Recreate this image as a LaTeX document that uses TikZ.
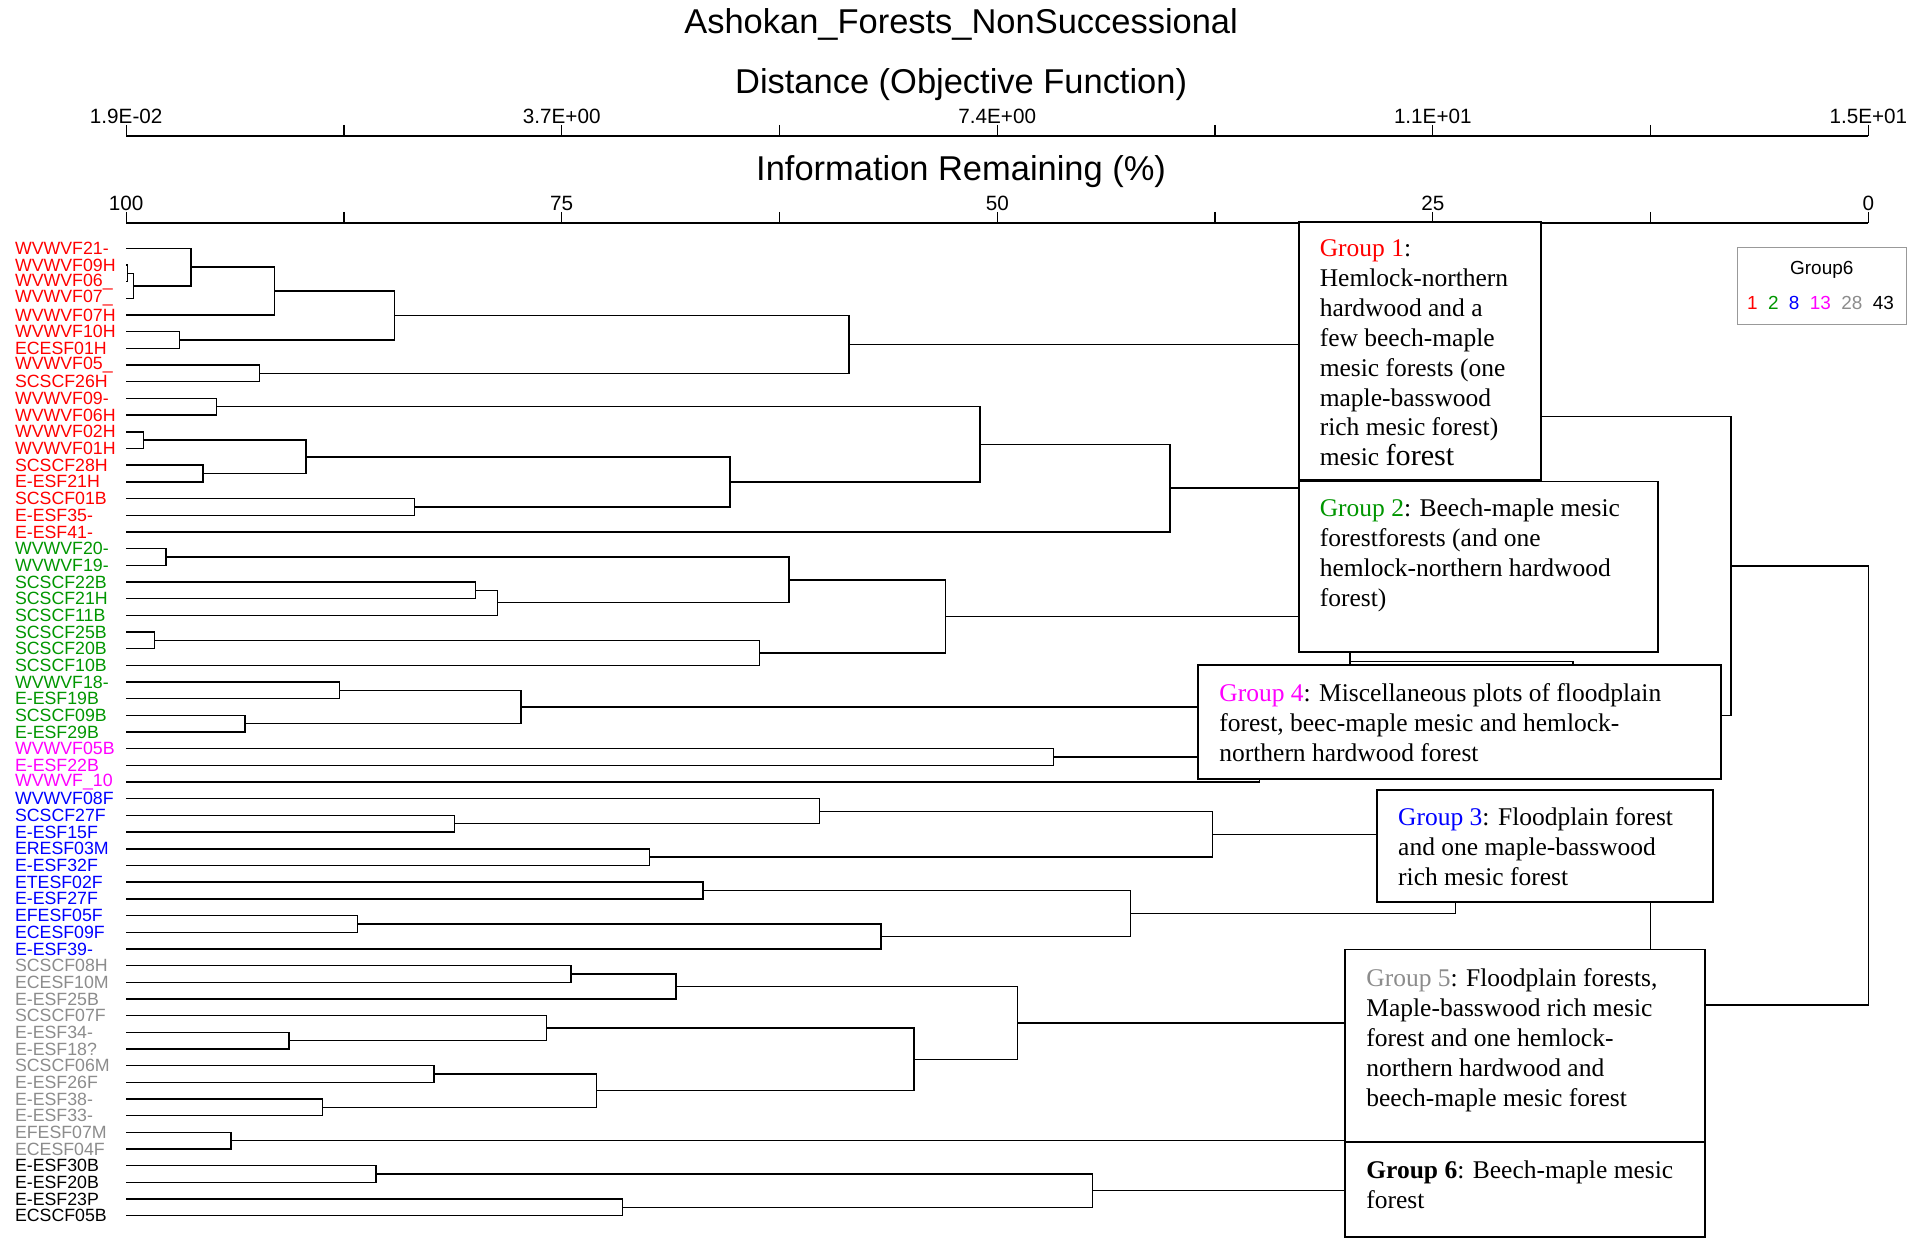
\documentclass[tikz,border=0pt]{standalone}
\usepackage{fontspec}
\setmainfont{Liberation Serif}
\setsansfont{Liberation Sans}
\usetikzlibrary{calc}

\definecolor{grpred}{RGB}{255,0,0}
\definecolor{grpgreen}{RGB}{0,150,0}
\definecolor{grpblue}{RGB}{0,0,255}
\definecolor{grpmag}{RGB}{255,0,255}
\definecolor{grpgray}{RGB}{140,140,140}

% join two clusters at distance #4, call the new cluster #1
\newcommand{\dlink}[4]{%
  \draw[tree] (#2) -| (#4,0 |- #3) -- (#3);
  \coordinate (#1) at ($(#4,0 |- #2)!0.5!(#4,0 |- #3)$);
}

\begin{document}
\begin{tikzpicture}[x=0.025cm, y=-0.025cm,
    tree/.style={line width=0.8pt},
    axisline/.style={line width=1.6pt},
    leaf/.style={anchor=west, inner sep=0pt, font=\sffamily\fontsize{10.3}{12}\selectfont},
    axtitle/.style={inner sep=0pt, font=\sffamily\fontsize{20}{24}\selectfont},
    axnum/.style={inner sep=0pt, font=\sffamily\fontsize{12}{14}\selectfont},
    grpbox/.style={draw=black, fill=white, line width=1.1pt},
    grptext/.style={anchor=north west, align=left, inner sep=0pt, font=\fontsize{14.8}{17.4}\selectfont},
    legbox/.style={draw=gray!80, line width=0.6pt},
    legtxt/.style={inner sep=0pt, font=\sffamily\fontsize{11}{13}\selectfont}]

\useasboundingbox (0,0) rectangle (1568,1011);

% titles
\node[axtitle] (ttl) at (784.5,20) {Ashokan\_Forests\_NonSuccessional};
\node[axtitle] (dtl) at (784.5,69) {Distance (Objective Function)};
\node[axtitle] (itl) at (784.5,140) {Information Remaining (\%)};

% the two scales
\draw[axisline] (103,111) -- (1525,111);
\draw[axisline] (103,182) -- (1525,182);
\foreach \t in {0,...,8} {
  \draw[tree] ({103+177.75*\t},102) -- ({103+177.75*\t},111);
  \draw[tree] ({103+177.75*\t},173) -- ({103+177.75*\t},182);
}
\foreach \v/\d [count=\k from 0] in {1.9E-02/100, 3.7E+00/75, 7.4E+00/50, 1.1E+01/25, 1.5E+01/0} {
  \node[axnum] (dnum\k) at ({103+355.5*\k},95) {\v};
  \node[axnum] (inum\k) at ({103+355.5*\k},166) {\d};
}

% plots
\foreach \lbl/\col [count=\i from 0] in {
    WVWVF21-/grpred, WVWVF09H/grpred, WVWVF06\_/grpred, WVWVF07\_/grpred, WVWVF07H/grpred,
    WVWVF10H/grpred, ECESF01H/grpred, WVWVF05\_/grpred, SCSCF26H/grpred, WVWVF09-/grpred,
    WVWVF06H/grpred, WVWVF02H/grpred, WVWVF01H/grpred, SCSCF28H/grpred, E-ESF21H/grpred,
    SCSCF01B/grpred, E-ESF35-/grpred, E-ESF41-/grpred,
    WVWVF20-/grpgreen, WVWVF19-/grpgreen, SCSCF22B/grpgreen, SCSCF21H/grpgreen, SCSCF11B/grpgreen,
    SCSCF25B/grpgreen, SCSCF20B/grpgreen, SCSCF10B/grpgreen, WVWVF18-/grpgreen, E-ESF19B/grpgreen,
    SCSCF09B/grpgreen, E-ESF29B/grpgreen,
    WVWVF05B/grpmag, E-ESF22B/grpmag, WVWVF\_10/grpmag,
    WVWVF08F/grpblue, SCSCF27F/grpblue, E-ESF15F/grpblue, ERESF03M/grpblue, E-ESF32F/grpblue,
    ETESF02F/grpblue, E-ESF27F/grpblue, EFESF05F/grpblue, ECESF09F/grpblue, E-ESF39-/grpblue,
    SCSCF08H/grpgray, ECESF10M/grpgray, E-ESF25B/grpgray, SCSCF07F/grpgray, E-ESF34-/grpgray,
    E-ESF18?/grpgray, SCSCF06M/grpgray, E-ESF26F/grpgray, E-ESF38-/grpgray, E-ESF33-/grpgray,
    EFESF07M/grpgray, ECESF04F/grpgray,
    E-ESF30B/black, E-ESF20B/black, E-ESF23P/black, ECSCF05B/black} {
  \node[leaf, text=\col] (n\i) at (12,{202.7+13.615*\i}) {\lbl};
  \coordinate (l\i) at (103,{202.7+13.615*\i});
}

% group 1
\dlink{m1}{l1}{l2}{104}
\dlink{m2}{m1}{l3}{108.8}
\dlink{m3}{l0}{m2}{155.9}
\dlink{m4}{m3}{l4}{224}
\dlink{m5}{l5}{l6}{146.7}
\dlink{m6}{m4}{m5}{321.9}
\dlink{m7}{l7}{l8}{212}
\dlink{m8}{m6}{m7}{693}
\dlink{m9}{l9}{l10}{176.9}
\dlink{m10}{l11}{l12}{117}
\dlink{m11}{l13}{l14}{165.7}
\dlink{m12}{m10}{m11}{249.8}
\dlink{m13}{l15}{l16}{338.2}
\dlink{m14}{m12}{m13}{596}
\dlink{m15}{m9}{m14}{800}
\dlink{m16}{m15}{l17}{955}
\dlink{m17}{m8}{m16}{1160}
% groups 2 and 4
\dlink{g1}{l18}{l19}{135.5}
\dlink{g2}{l20}{l21}{388}
\dlink{g3}{g2}{l22}{406}
\dlink{g4}{g1}{g3}{644}
\dlink{g5}{l23}{l24}{126.3}
\dlink{g6}{g5}{l25}{620}
\dlink{g7}{g4}{g6}{772}
\dlink{g8}{l26}{l27}{277}
\dlink{g9}{l28}{l29}{200}
\dlink{g10}{g8}{g9}{425.3}
\dlink{g11}{g7}{g10}{1102}
\dlink{p1}{l30}{l31}{860}
\dlink{p2}{p1}{l32}{1027.8}
\dlink{g12}{g11}{p2}{1284}
\dlink{high}{m17}{g12}{1413}
% group 3
\dlink{b1}{l34}{l35}{371}
\dlink{b2}{l33}{b1}{669}
\dlink{b3}{l36}{l37}{530.3}
\dlink{b4}{b2}{b3}{989.6}
\dlink{b5}{l38}{l39}{573.8}
\dlink{b6}{l40}{l41}{292}
\dlink{b7}{b6}{l42}{719}
\dlink{b8}{b5}{b7}{923}
\dlink{b9}{b4}{b8}{1188}
% groups 5 and 6
\dlink{k1}{l43}{l44}{466}
\dlink{k2}{k1}{l45}{551.8}
\dlink{k3}{l47}{l48}{236}
\dlink{k4}{l46}{k3}{446}
\dlink{k5}{l49}{l50}{354.4}
\dlink{k6}{l51}{l52}{263.4}
\dlink{k7}{k5}{k6}{486.7}
\dlink{k8}{k4}{k7}{746}
\dlink{k9}{k2}{k8}{830.7}
\dlink{k10}{l53}{l54}{188.6}
\dlink{k11}{k9}{k10}{1200}
\dlink{d1}{l55}{l56}{307}
\dlink{d2}{l57}{l58}{508.3}
\dlink{d3}{d1}{d2}{891.6}
\dlink{k12}{k11}{d3}{1260}
\dlink{low}{b9}{k12}{1347}
\dlink{root}{high}{low}{1525}

% group notes
\filldraw[grpbox] (1060,181) rectangle (1258,392);
\filldraw[grpbox] (1060,393) rectangle (1353,532);
\filldraw[grpbox] (978,543) rectangle (1405,636);
\filldraw[grpbox] (1124,645) rectangle (1398,736);
\filldraw[grpbox] (1098,775) rectangle (1392,932);
\filldraw[grpbox] (1098,932) rectangle (1392,1010);

\node[grptext] (note1) at (1077,195) {\textcolor{grpred}{Group 1}:\\Hemlock-northern\\hardwood and a\\few beech-maple\\mesic forests (one\\maple-basswood\\rich mesic forest)\\mesic {\fontsize{17.5}{17.4}\selectfont forest}};
\node[grptext] (note2) at (1077,407) {\textcolor{grpgreen}{Group 2}: Beech-maple mesic\\forestforests (and one\\hemlock-northern hardwood\\forest)};
\node[grptext] (note4) at (995,558) {\textcolor{grpmag}{Group 4}: Miscellaneous plots of floodplain\\forest, beec-maple mesic and hemlock-\\northern hardwood forest};
\node[grptext] (note3) at (1141,659) {\textcolor{grpblue}{Group 3}: Floodplain forest\\and one maple-basswood\\rich mesic forest};
\node[grptext] (note5) at (1115,790) {\textcolor{grpgray}{Group 5}: Floodplain forests,\\Maple-basswood rich mesic\\forest and one hemlock-\\northern hardwood and\\beech-maple mesic forest};
\node[grptext] (note6) at (1115,947) {\textbf{Group 6}: Beech-maple mesic\\forest};

% legend
\draw[legbox] (1418,202) rectangle (1556,265);
\node[legtxt] (legttl) at (1487,220) {Group6};
\node[legtxt] (legnum) at (1486,247) {\textcolor{grpred}{1}\hspace{0.55em}\textcolor{grpgreen}{2}\hspace{0.55em}\textcolor{grpblue}{8}\hspace{0.55em}\textcolor{grpmag}{13}\hspace{0.55em}\textcolor{grpgray}{28}\hspace{0.55em}43};
\end{tikzpicture}
\end{document}
